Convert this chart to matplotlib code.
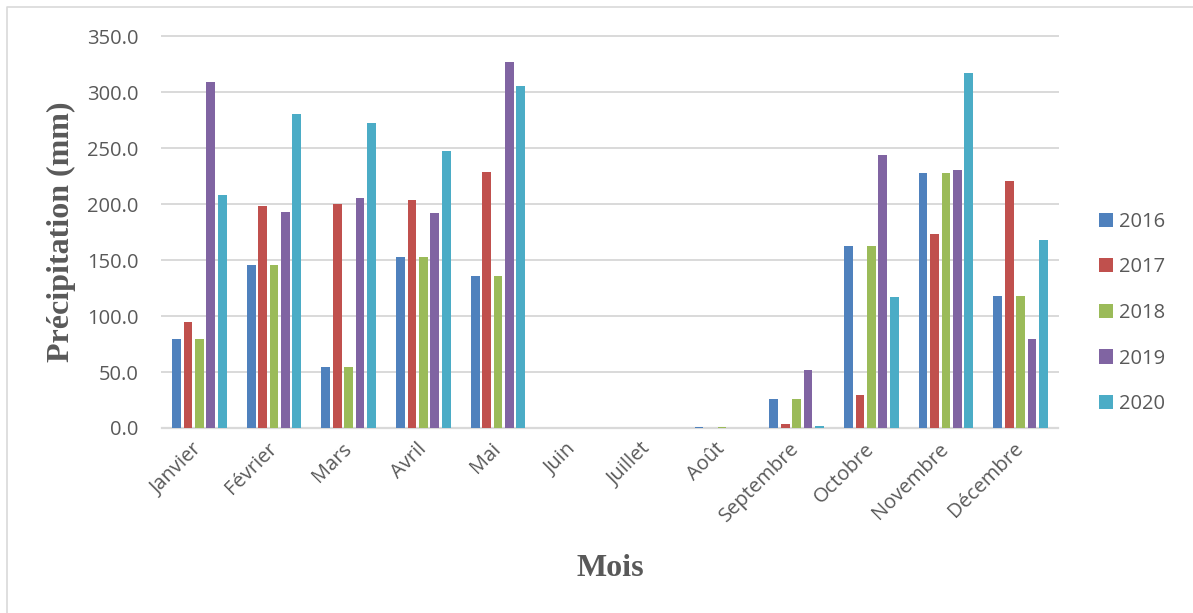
import numpy as np
import matplotlib
matplotlib.use('Agg')
import matplotlib.pyplot as plt
from matplotlib.lines import Line2D

# Monthly precipitation (mm) per year
months = ['Janvier', 'Février', 'Mars', 'Avril', 'Mai', 'Juin', 'Juillet',
          'Août', 'Septembre', 'Octobre', 'Novembre', 'Décembre']
years = ['2016', '2017', '2018', '2019', '2020']
p2016 = [80.0, 145.3, 54.6, 153.3, 136.3, 0, 0, 1.0, 26.0, 162.6, 227.9, 118.4]
p2017 = [95.2, 198.4, 199.9, 204.1, 228.8, 0, 0, 0, 3.6, 29.2, 173.3, 220.5]
p2018 = [80.0, 145.3, 54.6, 153.3, 136.3, 0, 0, 1.0, 26.0, 162.6, 227.9, 118.4]
p2019 = [309.1, 193.3, 205.8, 191.8, 327.0, 0, 0, 0, 51.8, 244.3, 230.3, 80.0]
p2020 = [208.2, 280.4, 272.4, 247.3, 305.5, 0, 0, 0, 1.8, 117.5, 317.4, 168.3]
series = [p2016, p2017, p2018, p2019, p2020]
colors = ['#4F81BD', '#C0504D', '#9BBB59', '#8064A2', '#4BACC6']

text_color = '#595959'
grid_color = '#d9d9d9'
sans = ['Open Sans', 'DejaVu Sans']
serif = ['Liberation Serif', 'DejaVu Serif']

fig = plt.figure(figsize=(11.93, 6.13), dpi=100)
ax = fig.add_axes([0.1358, 0.3018, 0.7510, 0.6387])

x = np.arange(len(months))
slot = 0.153
bar_w = 0.117
for i, (vals, c, yr) in enumerate(zip(series, colors, years)):
    offs = (i - 2) * slot
    ax.bar(x + offs, vals, width=bar_w, color=c, label=yr, zorder=3)

ax.set_xlim(-0.5, len(months) - 0.5)
ax.set_ylim(0, 350)
ax.set_yticks(np.arange(0, 351, 50))
ax.set_yticklabels([f'{v:.1f}' for v in np.arange(0, 351, 50)],
                   fontfamily=sans, fontsize=14.5, color=text_color)
ax.set_xticks(x)
ax.set_xticklabels(months, rotation=45, ha='right', va='center',
                   rotation_mode='anchor', fontfamily=sans,
                   fontsize=14.5, color=text_color)
ax.tick_params(axis='both', length=0)
ax.tick_params(axis='y', pad=17)
ax.tick_params(axis='x', pad=13)

ax.grid(axis='y', color=grid_color, linewidth=1.4, zorder=0)
for gl in ax.get_ygridlines():
    gl.set_clip_on(False)
for s in ['top', 'right', 'left']:
    ax.spines[s].set_visible(False)
ax.spines['bottom'].set_color(grid_color)
ax.spines['bottom'].set_linewidth(1.6)

ax.set_ylabel('Précipitation (mm)', fontfamily=serif, fontweight='bold',
              fontsize=23, color=text_color, labelpad=8)
ax.set_xlabel('Mois', fontfamily=serif, fontweight='bold', fontsize=23,
              color=text_color, labelpad=20)

leg = fig.legend(loc='center left', bbox_to_anchor=(0.9212, 0.4894),
                 frameon=False, borderpad=0, borderaxespad=0,
                 handlelength=0.7, handleheight=0.7, handletextpad=0.3,
                 labelspacing=1.27, prop={'family': sans, 'size': 14.5})
for t in leg.get_texts():
    t.set_color(text_color)

# light frame around the chart area
W, H = 1193, 613
fig.add_artist(Line2D([7 / W, 7 / W, 1.0], [0.0, 1 - 7 / H, 1 - 7 / H],
                      transform=fig.transFigure, color=grid_color, linewidth=1.2))

fig.savefig('out.png', dpi=100)
